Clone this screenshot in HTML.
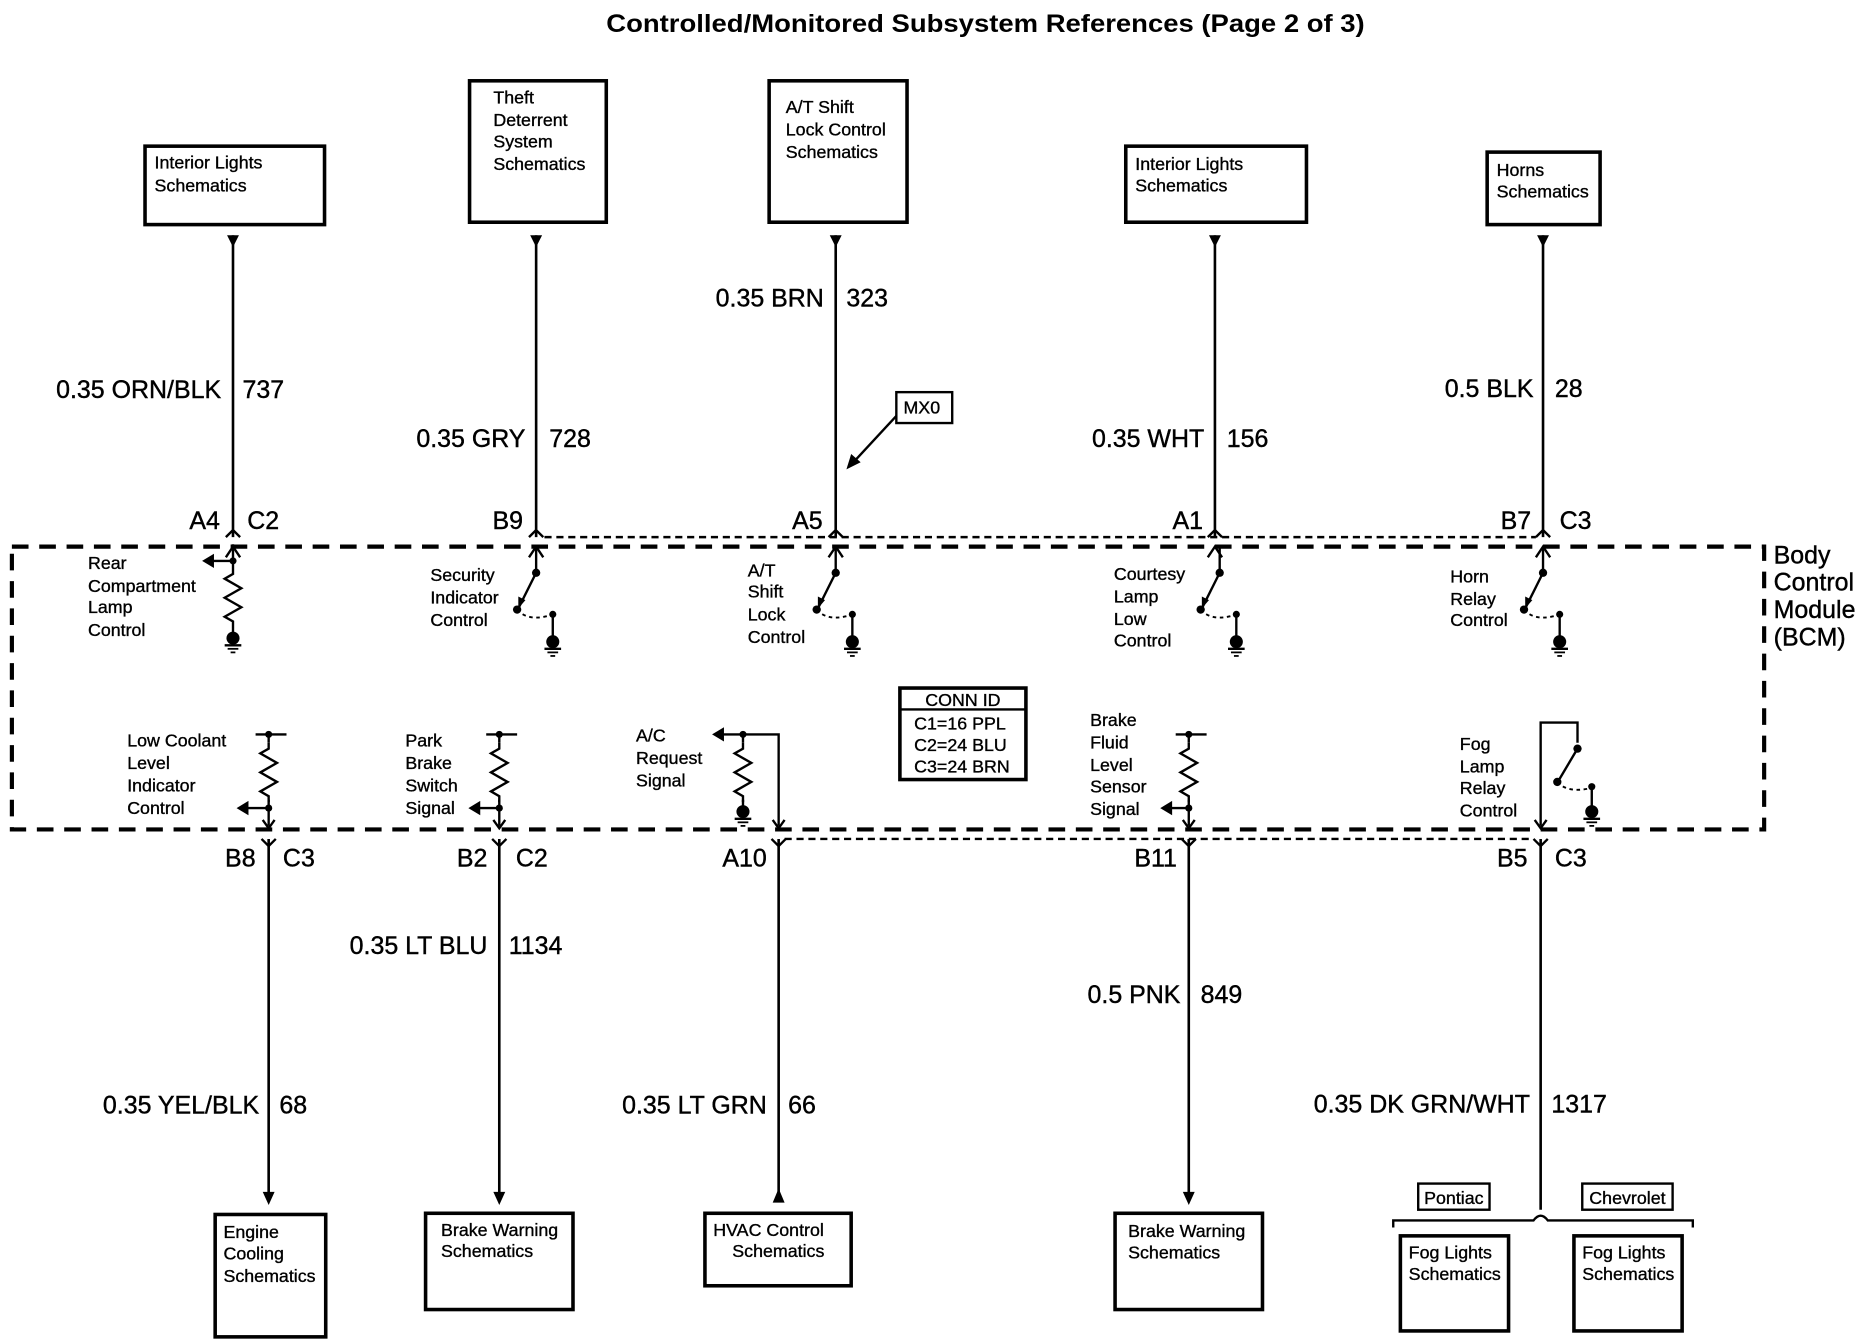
<!DOCTYPE html>
<html><head><meta charset="utf-8"><style>
html,body{margin:0;padding:0;background:#fff;}
svg{display:block;}
text{font-family:"Liberation Sans",Arial,sans-serif;fill:#000;}
.t{font-size:15px;stroke:#000;stroke-width:0.3;}
.w{font-size:21px;stroke:#000;stroke-width:0.35;}
.b{font-size:15px;stroke:#000;stroke-width:0.3;}
</style></head><body>
<svg width="1864" height="1344" viewBox="0 0 1568 1131" preserveAspectRatio="none" xmlns="http://www.w3.org/2000/svg">
<defs>
<path id="res" d="M0,0 l0,5 l-7,4 l14,8 l-14,8 l14,8 l-14,8 l7,4 l0,5" fill="none" stroke="#000" stroke-width="2"/>
<g id="gnd"><circle cx="0" cy="0" r="5.5" fill="#000"/><line x1="-7" y1="6" x2="7" y2="6" stroke="#000" stroke-width="2"/><line x1="-4.5" y1="9" x2="4.5" y2="9" stroke="#000" stroke-width="1.5"/><line x1="-2" y1="12" x2="2" y2="12" stroke="#000" stroke-width="1.5"/></g>
<g id="sw"><line x1="0" y1="-22" x2="0" y2="0" stroke="#000" stroke-width="2"/><circle cx="0" cy="0" r="3.5" fill="#000"/><line x1="0" y1="0" x2="-15" y2="30" stroke="#000" stroke-width="2"/><polygon points="-15,30 -15,20 -9,23" fill="#000"/><circle cx="-16" cy="31" r="3.5" fill="#000"/><path d="M-16,31 Q-6,42 14,35" fill="none" stroke="#000" stroke-width="1.6" stroke-dasharray="3,3"/><circle cx="14" cy="35" r="3" fill="#000"/><line x1="14" y1="35" x2="14" y2="57" stroke="#000" stroke-width="2"/><use href="#gnd" x="14" y="58"/></g>
<path id="up" d="M-6,9 L0,0 L6,9" fill="none" stroke="#000" stroke-width="2"/>
</defs>
<text x="510" y="27" textLength="638" lengthAdjust="spacingAndGlyphs" style="font-size:21px;font-weight:bold">Controlled/Monitored Subsystem References (Page 2 of 3)</text>
<g fill="none" stroke="#000" stroke-width="3">
<rect x="122" y="123" width="151" height="66"/>
<rect x="395" y="68" width="115" height="119"/>
<rect x="647" y="68" width="116" height="119"/>
<rect x="947" y="123" width="152" height="64"/>
<rect x="1251" y="128" width="95" height="61"/>
<rect x="181" y="1022" width="93" height="103"/>
<rect x="358" y="1021" width="124" height="81"/>
<rect x="593" y="1021" width="123" height="61"/>
<rect x="938" y="1021" width="124" height="81"/>
<rect x="1178" y="1040" width="91" height="80"/>
<rect x="1324" y="1040" width="91" height="80"/>
<rect x="757" y="579" width="106" height="77"/>
</g>
<g fill="none" stroke="#000" stroke-width="2">
<rect x="754" y="330" width="47" height="26"/>
<rect x="1193" y="996" width="60" height="22"/>
<rect x="1331" y="996" width="76" height="22"/>
<line x1="757" y1="597" x2="863" y2="597"/>
<line x1="754" y1="350" x2="716" y2="391"/>
</g>
<polygon points="712,395 716,382 724,389" fill="#000"/>
<g class="b">
<text x="130" y="142">Interior Lights</text><text x="130" y="161">Schematics</text>
<text x="415" y="87">Theft</text><text x="415" y="106">Deterrent</text><text x="415" y="124">System</text><text x="415" y="143">Schematics</text>
<text x="661" y="95">A/T Shift</text><text x="661" y="114">Lock Control</text><text x="661" y="133">Schematics</text>
<text x="955" y="143">Interior  Lights</text><text x="955" y="161">Schematics</text>
<text x="1259" y="148">Horns</text><text x="1259" y="166">Schematics</text>
<text x="188" y="1042">Engine</text><text x="188" y="1060">Cooling</text><text x="188" y="1079">Schematics</text>
<text x="371" y="1040">Brake Warning</text><text x="371" y="1058">Schematics</text>
<text x="600" y="1040">HVAC Control</text><text x="616" y="1058">Schematics</text>
<text x="949" y="1041">Brake Warning</text><text x="949" y="1059">Schematics</text>
<text x="1185" y="1059">Fog Lights</text><text x="1185" y="1077">Schematics</text>
<text x="1331" y="1059">Fog Lights</text><text x="1331" y="1077">Schematics</text>
<text x="1223" y="1013" text-anchor="middle">Pontiac</text>
<text x="1369" y="1013" text-anchor="middle">Chevrolet</text>
<text x="760" y="348">MX0</text>
<text x="810" y="594" text-anchor="middle">CONN ID</text>
<text x="769" y="614">C1=16 PPL</text><text x="769" y="632">C2=24 BLU</text><text x="769" y="650">C3=24 BRN</text>
</g>
<g stroke="#000" stroke-width="2.2">
<line x1="196" y1="198" x2="196" y2="452"/>
<line x1="451" y1="198" x2="451" y2="452"/>
<line x1="703" y1="198" x2="703" y2="452"/>
<line x1="1022" y1="198" x2="1022" y2="452"/>
<line x1="1298" y1="198" x2="1298" y2="452"/>
<line x1="226" y1="706" x2="226" y2="1005"/>
<line x1="420" y1="706" x2="420" y2="1005"/>
<line x1="655" y1="706" x2="655" y2="1005"/>
<line x1="1000" y1="706" x2="1000" y2="1005"/>
<line x1="1296" y1="706" x2="1296" y2="1018"/>
</g>
<g fill="#000">
<polygon points="191,198 201,198 196,208"/><polygon points="446,198 456,198 451,208"/><polygon points="698,198 708,198 703,208"/><polygon points="1017,198 1027,198 1022,208"/><polygon points="1293,198 1303,198 1298,208"/>
<polygon points="221,1003 231,1003 226,1014"/><polygon points="415,1003 425,1003 420,1014"/><polygon points="995,1003 1005,1003 1000,1014"/><polygon points="650,1012 660,1012 655,1000"/>
</g>
<g stroke="#000" stroke-width="2" fill="none">
<path d="M1172,1033 L1172,1027 L1290,1027 Q1296,1019 1302,1027 L1424,1027 L1424,1033"/>
</g>
<g fill="none" stroke="#000" stroke-width="2">
<path d="M190,452 L196,446 L202,452"/><path d="M445,452 L451,446 L457,452"/><path d="M697,452 L703,446 L709,452"/><path d="M1016,452 L1022,446 L1028,452"/><path d="M1292,452 L1298,446 L1304,452"/>
</g>
<line x1="458" y1="452" x2="1292" y2="452" stroke="#000" stroke-width="2" stroke-dasharray="6,4"/>
<line x1="660" y1="706" x2="1290" y2="706" stroke="#000" stroke-width="2" stroke-dasharray="6,4"/>
<g fill="none" stroke="#000" stroke-width="2">
<path d="M220,706 L226,712 L232,706"/><path d="M414,706 L420,712 L426,706"/><path d="M649,706 L655,712 L661,706"/><path d="M994,706 L1000,712 L1006,706"/><path d="M1290,706 L1296,712 L1302,706"/>
</g>
<rect x="10" y="460" width="1474" height="238" fill="none" stroke="#000" stroke-width="3.5" stroke-dasharray="14,9"/>
<g class="w">
<text x="1492" y="474">Body</text><text x="1492" y="497">Control</text><text x="1492" y="520">Module</text><text x="1492" y="543">(BCM)</text>
<text x="186" y="335" text-anchor="end">0.35 ORN/BLK</text><text x="204" y="335">737</text>
<text x="442" y="376" text-anchor="end">0.35 GRY</text><text x="462" y="376">728</text>
<text x="693" y="258" text-anchor="end">0.35 BRN</text><text x="712" y="258">323</text>
<text x="1013" y="376" text-anchor="end">0.35 WHT</text><text x="1032" y="376">156</text>
<text x="1290" y="334" text-anchor="end">0.5 BLK</text><text x="1308" y="334">28</text>
<text x="185" y="445" text-anchor="end">A4</text><text x="208" y="445">C2</text>
<text x="440" y="445" text-anchor="end">B9</text>
<text x="692" y="445" text-anchor="end">A5</text>
<text x="1012" y="445" text-anchor="end">A1</text>
<text x="1288" y="445" text-anchor="end">B7</text><text x="1312" y="445">C3</text>
<text x="215" y="729" text-anchor="end">B8</text><text x="238" y="729">C3</text>
<text x="410" y="729" text-anchor="end">B2</text><text x="434" y="729">C2</text>
<text x="645" y="729" text-anchor="end">A10</text>
<text x="990" y="729" text-anchor="end">B11</text>
<text x="1285" y="729" text-anchor="end">B5</text><text x="1308" y="729">C3</text>
<text x="410" y="803" text-anchor="end">0.35 LT BLU</text><text x="428" y="803">1134</text>
<text x="993" y="844" text-anchor="end">0.5 PNK</text><text x="1010" y="844">849</text>
<text x="218" y="937" text-anchor="end">0.35 YEL/BLK</text><text x="235" y="937">68</text>
<text x="645" y="937" text-anchor="end">0.35 LT GRN</text><text x="663" y="937">66</text>
<text x="1287" y="936" text-anchor="end">0.35 DK GRN/WHT</text><text x="1305" y="936">1317</text>
</g>
<g class="t">
<text x="74" y="479">Rear</text><text x="74" y="498">Compartment</text><text x="74" y="516">Lamp</text><text x="74" y="535">Control</text>
<text x="362" y="489">Security</text><text x="362" y="508">Indicator</text><text x="362" y="527">Control</text>
<text x="629" y="485">A/T</text><text x="629" y="503">Shift</text><text x="629" y="522">Lock</text><text x="629" y="541">Control</text>
<text x="937" y="488">Courtesy</text><text x="937" y="507">Lamp</text><text x="937" y="526">Low</text><text x="937" y="544">Control</text>
<text x="1220" y="490">Horn</text><text x="1220" y="509">Relay</text><text x="1220" y="527">Control</text>
<text x="107" y="628">Low Coolant</text><text x="107" y="647">Level</text><text x="107" y="666">Indicator</text><text x="107" y="685">Control</text>
<text x="341" y="628">Park</text><text x="341" y="647">Brake</text><text x="341" y="666">Switch</text><text x="341" y="685">Signal</text>
<text x="535" y="624">A/C</text><text x="535" y="643">Request</text><text x="535" y="662">Signal</text>
<text x="917" y="611">Brake</text><text x="917" y="630">Fluid</text><text x="917" y="649">Level</text><text x="917" y="667">Sensor</text><text x="917" y="686">Signal</text>
<text x="1228" y="631">Fog</text><text x="1228" y="650">Lamp</text><text x="1228" y="668">Relay</text><text x="1228" y="687">Control</text>
</g>
<g stroke="#000" stroke-width="2" fill="none">
<line x1="196" y1="458" x2="196" y2="478"/>
<line x1="196" y1="472" x2="176" y2="472"/>
<line x1="196" y1="528" x2="196" y2="532"/>
</g>
<use href="#up" x="196" y="460"/>
<circle cx="196" cy="472" r="3" fill="#000"/>
<polygon points="170,472 180,466 180,478" fill="#000"/>
<use href="#res" x="196" y="478"/>
<use href="#gnd" x="196" y="537"/>
<use href="#up" x="451" y="460"/><use href="#sw" x="451" y="482"/>
<use href="#up" x="703" y="460"/><use href="#sw" x="703" y="482"/>
<use href="#up" x="1022" y="460"/><use href="#sw" x="1026" y="482"/>
<use href="#up" x="1298" y="460"/><use href="#sw" x="1298" y="482"/>
<g stroke="#000" stroke-width="2" fill="none">
<line x1="215" y1="618" x2="241" y2="618"/><line x1="226" y1="618" x2="226" y2="625"/><line x1="226" y1="673" x2="226" y2="695"/><line x1="226" y1="680" x2="206" y2="680"/>
<line x1="409" y1="618" x2="435" y2="618"/><line x1="420" y1="618" x2="420" y2="625"/><line x1="420" y1="673" x2="420" y2="695"/><line x1="420" y1="680" x2="402" y2="680"/>
<line x1="989" y1="618" x2="1015" y2="618"/><line x1="1000" y1="618" x2="1000" y2="625"/><line x1="1000" y1="673" x2="1000" y2="695"/><line x1="1000" y1="680" x2="984" y2="680"/>
<path d="M606,618 L655,618 L655,695"/><line x1="625" y1="618" x2="625" y2="625"/><line x1="625" y1="673" x2="625" y2="678"/>
<path d="M1296,695 L1296,608 L1327,608 L1327,625"/>
<path d="M221,690 L226,697 L231,690"/><path d="M415,690 L420,697 L425,690"/><path d="M995,690 L1000,697 L1005,690"/><path d="M650,690 L655,697 L660,690"/><path d="M1291,690 L1296,697 L1301,690"/>
</g>
<use href="#res" x="226" y="625"/><use href="#res" x="420" y="625"/><use href="#res" x="1000" y="625"/><use href="#res" x="625" y="625"/>
<g fill="#000">
<circle cx="226" cy="618" r="3"/><circle cx="226" cy="680" r="3"/><polygon points="199,680 209,674 209,686"/>
<circle cx="420" cy="618" r="3"/><circle cx="420" cy="680" r="3"/><polygon points="394,680 404,674 404,686"/>
<circle cx="1000" cy="618" r="3"/><circle cx="1000" cy="680" r="3"/><polygon points="976,680 986,674 986,686"/>
<circle cx="625" cy="618" r="3"/><polygon points="599,618 609,612 609,624"/>
</g>
<use href="#gnd" x="625" y="683"/>
<g transform="translate(1327,630)">
<circle cx="0" cy="0" r="3.5" fill="#000"/><line x1="0" y1="0" x2="-16" y2="27" stroke="#000" stroke-width="2"/><circle cx="-17" cy="28" r="3.5" fill="#000"/><path d="M-17,28 Q-8,38 12,33" fill="none" stroke="#000" stroke-width="1.6" stroke-dasharray="3,3"/><circle cx="12" cy="32" r="3" fill="#000"/><line x1="12" y1="32" x2="12" y2="52" stroke="#000" stroke-width="2"/><use href="#gnd" x="12" y="53"/>
</g>
</svg>
</body></html>
